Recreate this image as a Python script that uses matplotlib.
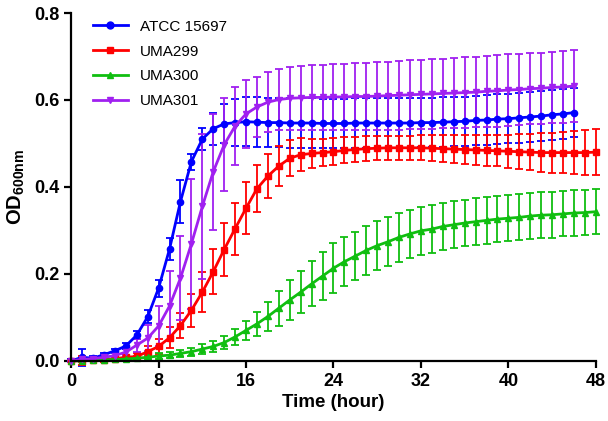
import numpy as np
import matplotlib
matplotlib.use('Agg')
import matplotlib.pyplot as plt
from matplotlib.lines import Line2D

plt.rcParams['font.family'] = ['Liberation Sans', 'DejaVu Sans']
plt.rcParams['mathtext.fontset'] = 'custom'
plt.rcParams['mathtext.bf'] = 'Liberation Sans:bold'
plt.rcParams['mathtext.rm'] = 'Liberation Sans'

hours_a = list(range(0, 47))   # ATCC 15697, UMA301
hours_b = list(range(0, 49))   # UMA299, UMA300

atcc = [0.000, 0.008, 0.006, 0.014, 0.023, 0.034, 0.059, 0.101, 0.167, 0.257,
        0.366, 0.458, 0.510, 0.534, 0.545, 0.548, 0.550, 0.549, 0.548, 0.548,
        0.547, 0.547, 0.547, 0.546, 0.546, 0.546, 0.547, 0.547, 0.547, 0.547,
        0.547, 0.547, 0.548, 0.548, 0.549, 0.550, 0.551, 0.553, 0.554, 0.556,
        0.557, 0.559, 0.561, 0.563, 0.566, 0.568, 0.571]
atcc_err = [0.003, 0.020, 0.004, 0.004, 0.005, 0.006, 0.010, 0.015, 0.020, 0.025,
            0.049, 0.018, 0.025, 0.037, 0.045, 0.054, 0.056, 0.057, 0.057, 0.057,
            0.057, 0.057, 0.057, 0.057, 0.057, 0.057, 0.057, 0.057, 0.057, 0.057,
            0.057, 0.057, 0.057, 0.057, 0.057, 0.057, 0.057, 0.057, 0.057, 0.057,
            0.057, 0.057, 0.057, 0.057, 0.057, 0.057, 0.057]

uma301 = [0.000, 0.003, 0.005, 0.008, 0.012, 0.020, 0.036, 0.052, 0.080, 0.126,
          0.190, 0.269, 0.355, 0.435, 0.497, 0.540, 0.568, 0.584, 0.595, 0.601,
          0.604, 0.605, 0.606, 0.606, 0.607, 0.607, 0.608, 0.608, 0.609, 0.610,
          0.611, 0.612, 0.613, 0.614, 0.615, 0.616, 0.617, 0.618, 0.620, 0.621,
          0.623, 0.624, 0.626, 0.627, 0.629, 0.630, 0.632]
uma301_err = [0.002, 0.003, 0.004, 0.005, 0.007, 0.010, 0.015, 0.030, 0.045, 0.080,
              0.096, 0.150, 0.167, 0.133, 0.107, 0.090, 0.078, 0.068, 0.069, 0.071,
              0.072, 0.073, 0.074, 0.075, 0.075, 0.076, 0.077, 0.077, 0.078, 0.078,
              0.079, 0.079, 0.080, 0.080, 0.080, 0.081, 0.081, 0.081, 0.081, 0.082,
              0.082, 0.082, 0.082, 0.082, 0.082, 0.082, 0.082]

uma299 = [0.000, 0.000, 0.002, 0.002, 0.005, 0.008, 0.010, 0.021, 0.033, 0.053,
          0.081, 0.116, 0.158, 0.205, 0.256, 0.304, 0.351, 0.396, 0.425, 0.448,
          0.466, 0.474, 0.477, 0.479, 0.481, 0.484, 0.486, 0.488, 0.489, 0.490,
          0.490, 0.490, 0.490, 0.489, 0.488, 0.487, 0.486, 0.485, 0.484, 0.483,
          0.482, 0.481, 0.480, 0.479, 0.479, 0.479, 0.479, 0.479, 0.480]
uma299_err = [0.002, 0.010, 0.003, 0.004, 0.005, 0.006, 0.008, 0.012, 0.018, 0.024,
              0.029, 0.038, 0.046, 0.052, 0.060, 0.060, 0.060, 0.054, 0.050, 0.047,
              0.042, 0.038, 0.034, 0.032, 0.031, 0.030, 0.029, 0.029, 0.028, 0.028,
              0.028, 0.028, 0.029, 0.030, 0.031, 0.032, 0.033, 0.034, 0.035, 0.036,
              0.038, 0.040, 0.042, 0.044, 0.046, 0.048, 0.050, 0.052, 0.053]

uma300 = [0.000, 0.000, 0.001, 0.002, 0.003, 0.004, 0.006, 0.008, 0.011, 0.013,
          0.017, 0.021, 0.027, 0.033, 0.042, 0.055, 0.070, 0.085, 0.102, 0.121,
          0.140, 0.158, 0.177, 0.195, 0.213, 0.228, 0.241, 0.254, 0.265, 0.274,
          0.284, 0.292, 0.299, 0.303, 0.309, 0.313, 0.317, 0.320, 0.323, 0.326,
          0.328, 0.330, 0.333, 0.335, 0.336, 0.338, 0.340, 0.341, 0.343]
uma300_err = [0.002, 0.002, 0.002, 0.003, 0.003, 0.004, 0.004, 0.005, 0.006, 0.007,
              0.008, 0.009, 0.011, 0.013, 0.016, 0.019, 0.022, 0.028, 0.034, 0.040,
              0.046, 0.049, 0.052, 0.055, 0.057, 0.057, 0.056, 0.056, 0.056, 0.056,
              0.056, 0.056, 0.055, 0.055, 0.055, 0.054, 0.054, 0.054, 0.054, 0.053,
              0.053, 0.053, 0.053, 0.053, 0.053, 0.052, 0.052, 0.052, 0.052]

fig = plt.figure(figsize=(6.08, 4.21), dpi=100)
ax = fig.add_axes([0.117, 0.143, 0.863, 0.826])

series = [
    (hours_a, atcc, atcc_err, '#0000FF', 'o', 'ATCC 15697'),
    (hours_b, uma299, uma299_err, '#FF0000', 's', 'UMA299'),
    (hours_b, uma300, uma300_err, '#10BE10', '^', 'UMA300'),
    (hours_a, uma301, uma301_err, '#A020F0', 'v', 'UMA301'),
]
handles = []
for x, y, e, c, m, lab in series:
    ax.errorbar(x, y, yerr=e, color=c, marker=m, markersize=4.5, lw=2,
                elinewidth=1.3, capsize=3, capthick=1.3, clip_on=False)
    handles.append(Line2D([], [], color=c, marker=m, markersize=5, lw=2, label=lab))

ax.set_xlim(0, 48)
ax.set_ylim(0, 0.8)
ax.set_xticks([0, 8, 16, 24, 32, 40, 48])
ax.set_yticks([0.0, 0.2, 0.4, 0.6, 0.8])
ax.set_yticklabels(['0.0', '0.2', '0.4', '0.6', '0.8'])
for s in ['top', 'right']:
    ax.spines[s].set_visible(False)
for s in ['left', 'bottom']:
    ax.spines[s].set_linewidth(1.6)
ax.tick_params(width=1.6, length=5, labelsize=13)
for t in ax.get_xticklabels() + ax.get_yticklabels():
    t.set_fontweight('bold')

ax.set_xlabel('Time (hour)', fontsize=13.5, fontweight='bold', labelpad=3)
ax.set_ylabel(r'$\mathbf{OD_{600nm}}$', fontsize=14.5, labelpad=5)

ax.legend(handles=handles, loc='upper left', bbox_to_anchor=(0.015, 1.02),
          frameon=False, fontsize=11, handlelength=2.3, labelspacing=0.7)

plt.savefig('out.png', dpi=100)
